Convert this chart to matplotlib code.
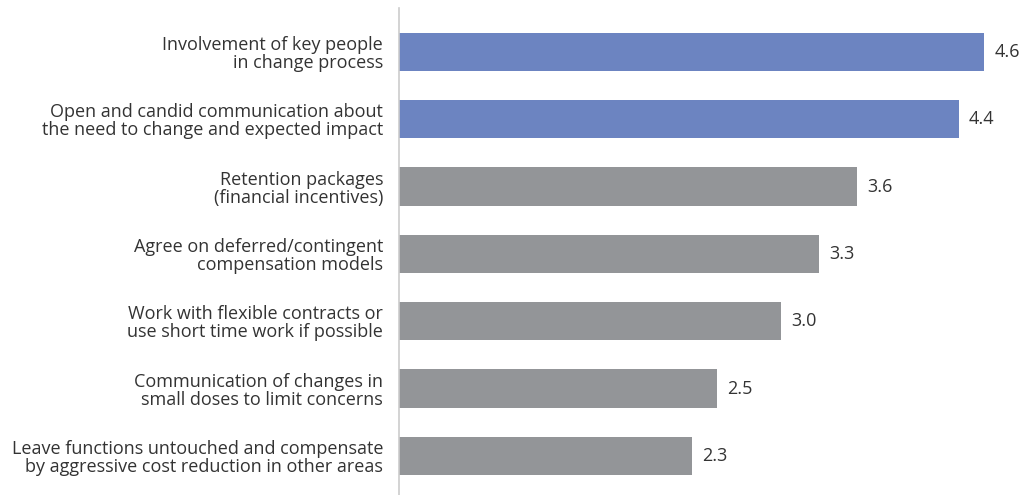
import matplotlib.pyplot as plt

labels = [
    "Involvement of key people\nin change process",
    "Open and candid communication about\nthe need to change and expected impact",
    "Retention packages\n(financial incentives)",
    "Agree on deferred/contingent\ncompensation models",
    "Work with flexible contracts or\nuse short time work if possible",
    "Communication of changes in\nsmall doses to limit concerns",
    "Leave functions untouched and compensate\nby aggressive cost reduction in other areas",
]
scores = [4.6, 4.4, 3.6, 3.3, 3.0, 2.5, 2.3]
highlight = [True, True, False, False, False, False, False]

blue = "#6c84c1"
grey = "#939598"
text_col = "#333333"

plt.rcParams['font.family'] = ['Open Sans', 'DejaVu Sans']

fig = plt.figure(figsize=(10.35, 4.95), dpi=100)
ax = fig.add_axes([0.3855, 0.0, 0.6145, 0.984])

pos = list(range(len(scores)))
colors = [blue if h else grey for h in highlight]
ax.barh(pos, scores, height=0.57, color=colors)

for p, v in zip(pos, scores):
    ax.text(v + 0.08, p, f"{v:.1f}", va="center", ha="left",
            fontsize=13, color=text_col)

ax.set_xlim(0, 5)
ax.set_ylim(6.58, -0.654)
ax.set_yticks(pos)
ax.set_yticklabels(labels, fontsize=13, color=text_col, linespacing=1.0)
ax.tick_params(axis="y", length=0, pad=11.5)
ax.set_xticks([])
for s in ["top", "right", "bottom"]:
    ax.spines[s].set_visible(False)
ax.spines["left"].set_color("#cccccc")
ax.spines["left"].set_linewidth(1.2)

fig.savefig("out.png", dpi=100)
